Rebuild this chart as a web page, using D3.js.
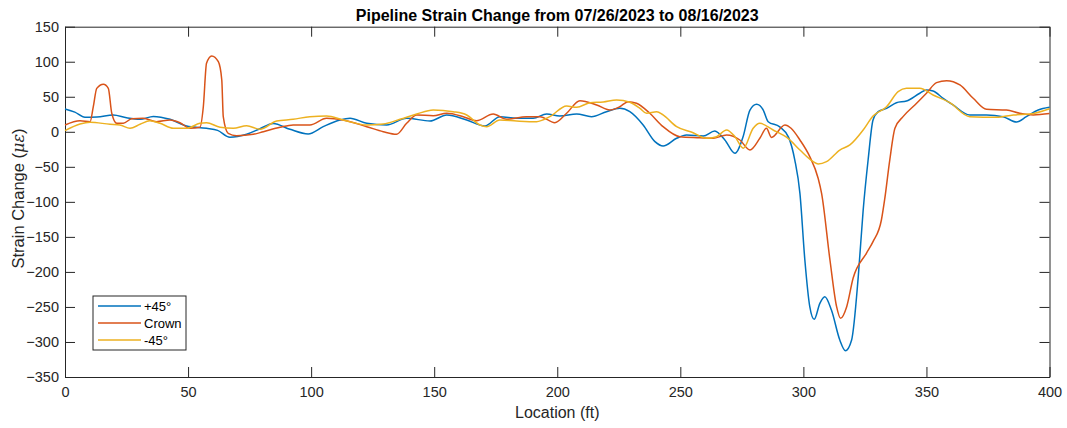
<!DOCTYPE html>
<html>
<head>
<meta charset="utf-8">
<script src="https://cdn.jsdelivr.net/npm/d3@7"></script>
<style>
  body { margin: 0; background: #fff; }
  svg { font-family: "Liberation Sans", Arial, sans-serif; }
</style>
</head>
<body>
<div id="chart"></div>
<script>
// Strain change along the pipeline
const plusLoc = [0, 4, 8.1, 13, 19.6, 25, 30.5, 35.9, 42.7, 49.4, 57.5, 62, 67, 73.8, 79, 84.6, 91.4, 98.8, 104.9, 111.7, 115.8, 122.6, 130.7, 138.8, 148.3, 155.1, 163.2, 170.6, 176.7, 183.5, 190.2, 195.7, 201, 207.9, 213.9, 220, 225.4, 229.5, 234.9, 239.7, 243, 248.5, 252.5, 259.3, 264, 268.1, 272.2, 275.5, 278.3, 281, 283.7, 285.7, 290.4, 294, 296.5, 298.6, 300.6, 302.6, 304.4, 306.7, 308.7, 311.4, 314.8, 317.1, 319.6, 322.3, 324.3, 326.3, 328.3, 330.4, 333.8, 337.8, 341.9, 347.3, 350, 352.7, 356.8, 360.8, 367.6, 374.4, 381.1, 386.6, 390.6, 395.4, 400];
const plusVal = [32.5, 28, 20.7, 21, 24, 20, 17.8, 22, 17.8, 8.3, 5, 2, -7.9, -3.6, 4, 12, 3.5, -3.1, 7.3, 16.8, 19.3, 12.1, 9.7, 19.3, 15.4, 24, 16.8, 8.3, 21.6, 19.3, 19.3, 25.4, 22.5, 25.4, 21.6, 28.7, 33.5, 28.7, 9.7, -14.1, -20.3, -9.3, -4.6, -6, 1.1, -11.7, -30.7, -7, 31.1, 39.3, 31.1, 14.4, 7, -8, -40, -87.8, -183, -249.6, -267.7, -244.8, -235.4, -254.4, -297.2, -312.5, -297.2, -206.8, -111.6, -40.3, 16.8, 28.7, 33.5, 41.5, 44, 55, 59.7, 58.2, 47.8, 38.3, 24, 24, 21.6, 14, 21.6, 31.1, 35];

const crownLoc = [0, 6.1, 10.2, 11.5, 12.9, 15.6, 17.6, 19, 21, 23.7, 27.1, 31.8, 37.2, 42.7, 46.7, 50.8, 54.8, 56.2, 57.5, 59.6, 62.3, 63.7, 64.3, 66.3, 69.7, 76.5, 80.6, 87.4, 92.7, 99.5, 106.3, 113, 122.6, 129.3, 134.7, 138.8, 142.9, 149.6, 155.1, 161.8, 167.2, 174, 179.4, 187.5, 193, 199, 203.8, 209.2, 216, 221.4, 225.4, 228.8, 232.2, 237.6, 243, 249.8, 257.9, 263.3, 268.8, 274.2, 278.3, 282.3, 285, 287, 292.5, 295, 298.6, 302.6, 306, 307.4, 310.8, 313.5, 315.1, 317.6, 320.2, 325.6, 328.3, 331.7, 333, 335.1, 337.2, 340.5, 346, 350, 354.1, 358.2, 363.6, 369, 374.4, 382.5, 387.9, 393.4, 400];
const crownVal = [9.7, 15.8, 14.4, 35.8, 62, 67.8, 62, 26.4, 12.1, 12.1, 18.7, 19.3, 14.4, 16.8, 13, 5, 6.4, 35.8, 97.8, 108.2, 100, 73.9, 21.6, -2.2, -5.5, -3.6, 0.1, 6.4, 9.7, 9.7, 19.3, 16.8, 7.3, 0.1, -3.6, 12.1, 24, 23, 26.4, 21.6, 15.8, 25.4, 17.8, 21.6, 21.6, 13, 26.4, 44.4, 38.3, 31.1, 35.8, 43, 40.7, 26.4, 7.3, -7, -8.4, -9.3, -4.6, -11.7, -26, -9.3, 5, -8, 9.7, 5, -11.7, -35.5, -66.4, -87.8, -183, -249.6, -266.2, -249.6, -209.1, -173.4, -156.8, -125.9, -97.3, -40.3, 5, 21.6, 40.7, 55, 70.1, 73, 66.8, 47.8, 32.1, 31.1, 26.4, 24, 26];

const minusLoc = [0, 6.1, 10.2, 18.3, 22.3, 26.4, 30.5, 34.5, 38.6, 44, 49.4, 54.8, 57.5, 63, 68.4, 73.8, 79.2, 86, 92.7, 99.5, 106.3, 113, 122.6, 129.3, 136.1, 142.9, 149.6, 157.7, 163.2, 168.6, 171.3, 176.7, 183.5, 191.6, 197, 203.8, 207.9, 213.3, 218.7, 224.1, 229.5, 233.6, 236.3, 240.4, 243, 248.5, 255.2, 260.6, 264.7, 268.8, 272.2, 275.6, 279.6, 282.3, 287.7, 293.8, 298.6, 304, 306, 309.4, 314.8, 318.9, 324.3, 328.3, 333.8, 338.5, 341.9, 347.3, 352.7, 359.5, 367.6, 378.5, 385.3, 392.1, 400];
const minusVal = [1.6, 11.1, 13.6, 10.7, 9.7, 5, 10.7, 15.8, 12.1, 5, 5, 12.1, 13, 6.4, 5, 8.7, 3.5, 15.4, 17.8, 21.6, 22.5, 16.8, 9.7, 11.1, 17.8, 25.4, 31.1, 28.7, 24, 9.7, 7.3, 16.8, 15.4, 14.4, 21.6, 36.8, 35, 41.5, 42.5, 45.4, 42.1, 33.5, 26.4, 28.7, 24, 7.3, -1.3, -9.3, -7, 2.6, -7, -23.6, 5, 12.1, 2.6, -9.3, -26, -42.7, -46, -42.7, -26, -18.8, 2.6, 22.5, 35.8, 57.2, 62, 62, 52.5, 41.5, 21.6, 20.7, 24, 25.4, 33];

const seriesNames = ['+45°', 'Crown', '-45°'];
const seriesColors = ['#0072BD', '#D95319', '#EDB120'];
const xTicks = [0, 50, 100, 150, 200, 250, 300, 350, 400];
const yTicks = [150, 100, 50, 0, -50, -100, -150, -200, -250, -300, -350];

const width = 1067, height = 428;
const plotLeft = 65, plotRight = 1049.5, plotTop = 26.7, plotBottom = 377;
const ink = '#262626';

const svg = d3.select('#chart')
    .append('svg')
    .attr('width', width)
    .attr('height', height);

const x = d3.scaleLinear().domain([0, 400]).range([plotLeft, plotRight]);
const y = d3.scaleLinear().domain([-350, 150]).range([plotBottom, plotTop]);

// Axes with inward ticks (MATLAB box style)
function styleAxis(g) {
    g.select('.domain').attr('stroke', ink).attr('stroke-width', 1);
    g.selectAll('.tick line').attr('stroke', ink).attr('stroke-width', 1);
    g.selectAll('.tick text').attr('fill', ink).style('font-size', '14.5px');
}

svg.append('g')
    .attr('transform', `translate(0,${plotBottom})`)
    .call(d3.axisBottom(x).tickValues(xTicks).tickSizeInner(-10).tickSizeOuter(0).tickPadding(10))
    .call(styleAxis);

svg.append('g')
    .attr('transform', `translate(0,${plotTop})`)
    .call(d3.axisTop(x).tickValues(xTicks).tickSizeInner(-10).tickSizeOuter(0).tickFormat(''))
    .call(styleAxis);

svg.append('g')
    .attr('transform', `translate(${plotLeft},0)`)
    .call(d3.axisLeft(y).tickValues(yTicks).tickSizeInner(-10).tickSizeOuter(0).tickPadding(6))
    .call(styleAxis);

svg.append('g')
    .attr('transform', `translate(${plotRight},0)`)
    .call(d3.axisRight(y).tickValues(yTicks).tickSizeInner(-10).tickSizeOuter(0).tickFormat(''))
    .call(styleAxis);

// Lines
const series = [
    { loc: plusLoc, val: plusVal },
    { loc: crownLoc, val: crownVal },
    { loc: minusLoc, val: minusVal }
];

const line = d3.line()
    .x(d => x(d[0]))
    .y(d => y(d[1]))
    .curve(d3.curveMonotoneX);

const plot = svg.append('g');
series.forEach((s, i) => {
    plot.append('path')
        .datum(d3.zip(s.loc, s.val))
        .attr('d', line)
        .attr('fill', 'none')
        .attr('stroke', seriesColors[i])
        .attr('stroke-width', 1.5)
        .attr('stroke-linejoin', 'round');
});

// Title and axis labels
svg.append('text')
    .attr('x', (plotLeft + plotRight) / 2)
    .attr('y', 21)
    .attr('text-anchor', 'middle')
    .style('font-size', '16px')
    .style('font-weight', 'bold')
    .attr('fill', '#000')
    .text('Pipeline Strain Change from 07/26/2023 to 08/16/2023');

svg.append('text')
    .attr('x', (plotLeft + plotRight) / 2)
    .attr('y', 418)
    .attr('text-anchor', 'middle')
    .style('font-size', '16px')
    .attr('fill', ink)
    .text('Location (ft)');

const yl = svg.append('text')
    .attr('transform', `translate(24,198.5) rotate(-90)`)
    .attr('text-anchor', 'middle')
    .style('font-size', '16.5px')
    .attr('fill', ink);
yl.append('tspan').text('Strain Change (');
yl.append('tspan').style('font-style', 'italic').style('font-family', '"DejaVu Serif", serif').style('font-size', '16px').text('με');
yl.append('tspan').text(')');

// Legend
const legend = svg.append('g').attr('transform', 'translate(93,296)');
legend.append('rect')
    .attr('width', 93)
    .attr('height', 54)
    .attr('fill', '#fff')
    .attr('stroke', ink)
    .attr('stroke-width', 1);

seriesNames.forEach((name, i) => {
    const yy = 10 + i * 17;
    legend.append('line')
        .attr('x1', 5).attr('x2', 48)
        .attr('y1', yy).attr('y2', yy)
        .attr('stroke', seriesColors[i])
        .attr('stroke-width', 1.5);
    legend.append('text')
        .attr('x', 51)
        .attr('y', yy + 4.5)
        .style('font-size', '13px')
        .attr('fill', '#000')
        .text(name);
});
</script>
</body>
</html>
